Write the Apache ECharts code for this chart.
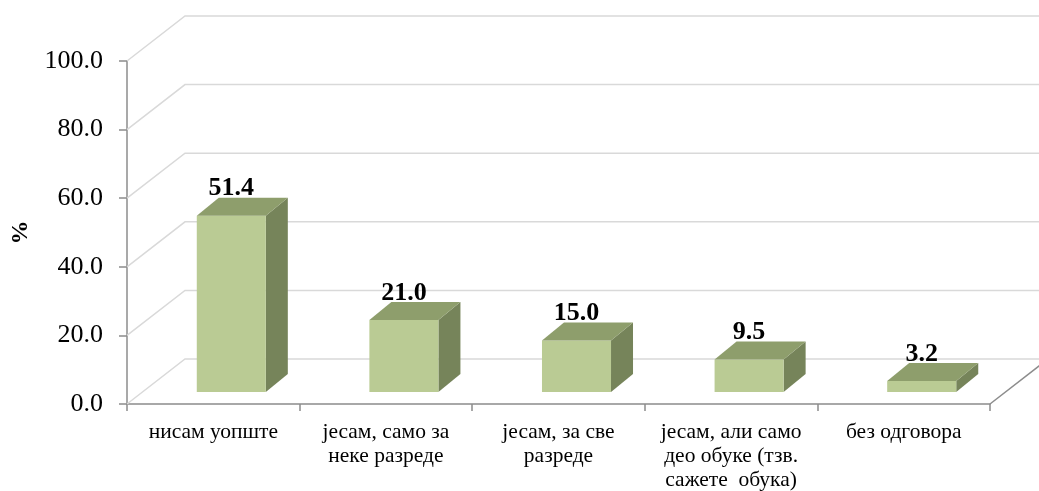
<!DOCTYPE html>
<html>
<head>
<meta charset="utf-8">
<script src="https://cdn.jsdelivr.net/npm/echarts@6/dist/echarts.min.js"></script>
<style>
  html, body { margin: 0; padding: 0; background: #fff; }
  #chart { width: 1039px; height: 491px; }
</style>
</head>
<body>
<div id="chart"></div>
<script>
// data
var categories = ['нисам уопште', 'јесам, само за\nнеке разреде', 'јесам, за све\nразреде', 'јесам, али само\nдео обуке (тзв.\nсажете  обука)', 'без одговора'];
var values = [51.4, 21.0, 15.0, 9.5, 3.2];
var yTicks = [0, 20, 40, 60, 80, 100];

var FONT = 'Liberation Serif, Times New Roman, serif';
// fake 3d depth (wall) and bar offsets
var wallDx = 58, wallDy = -45;
var barDx = 18, barDy = -12;   // bar front face sits a bit inside the floor
var sideDx = 22, sideDy = -18; // bar thickness

var chart = echarts.init(document.getElementById('chart'));

function renderWall(params, api) {
  var cs = params.coordSys;
  var v = api.value(1);
  var y = api.coord([0, v])[1];
  var x0 = cs.x, x1 = cs.x + cs.width;
  var children = [{
    type: 'polyline',
    shape: { points: [[x0, y], [x0 + wallDx, y + wallDy], [x1 + wallDx, y + wallDy]] },
    style: { stroke: '#d9d9d9', lineWidth: 1.5, fill: null },
    silent: true
  }];
  if (v === 0) {
    children.push({
      type: 'line',
      shape: { x1: x1, y1: y, x2: x1 + wallDx, y2: y + wallDy },
      style: { stroke: '#8c8c8c', lineWidth: 1.5 },
      silent: true
    });
  }
  return { type: 'group', children: children };
}

function renderBar(params, api) {
  var i = api.value(0), v = api.value(1);
  var base = api.coord([i, 0]);
  var top = api.coord([i, v]);
  var w = api.size([1, 0])[0] * 0.4;
  var cx = base[0] + barDx;
  var xl = cx - w / 2, xr = cx + w / 2;
  var yb = base[1] + barDy, yt = top[1] + barDy;
  return {
    type: 'group',
    children: [
      {
        type: 'polygon',
        shape: { points: [[xr, yt], [xr + sideDx, yt + sideDy], [xr + sideDx, yb + sideDy], [xr, yb]] },
        style: { fill: '#76845a' }
      },
      {
        type: 'rect',
        shape: { x: xl, y: yt, width: w, height: yb - yt },
        style: { fill: '#bacb94' }
      },
      {
        type: 'polygon',
        shape: { points: [[xl, yt], [xr, yt], [xr + sideDx, yt + sideDy], [xl + sideDx, yt + sideDy]] },
        style: { fill: '#8e9e6c' }
      },
      {
        type: 'text',
        style: {
          text: v.toFixed(1),
          x: cx, y: yt + sideDy + 4,
          align: 'center', verticalAlign: 'bottom',
          font: 'bold 26px ' + FONT,
          fill: '#000'
        }
      }
    ]
  };
}

var option = {
  backgroundColor: '#fff',
  animation: false,
  grid: { left: 127, right: 49, top: 61, bottom: 87, outerBoundsMode: 'none' },
  xAxis: {
    type: 'category',
    data: categories,
    axisLine: { lineStyle: { color: '#8c8c8c', width: 1.5 } },
    axisTick: { show: true, length: 7, lineStyle: { color: '#8c8c8c', width: 1.5 } },
    axisLabel: {
      interval: 0, margin: 16,
      fontFamily: FONT, fontSize: 21.5, lineHeight: 24, color: '#000'
    }
  },
  yAxis: {
    type: 'value',
    min: 0, max: 100, interval: 20,
    name: '%',
    nameLocation: 'middle',
    nameGap: 94,
    nameTextStyle: { fontFamily: FONT, fontSize: 24, fontWeight: 'bold', color: '#000' },
    axisLine: { show: true, lineStyle: { color: '#8c8c8c', width: 1.5 } },
    axisTick: { show: true, length: 8, lineStyle: { color: '#8c8c8c', width: 1.5 } },
    axisLabel: {
      margin: 24,
      fontFamily: FONT, fontSize: 26, color: '#000',
      formatter: function (val) { return val.toFixed(1); }
    },
    splitLine: { show: false }
  },
  series: [
    {
      type: 'custom',
      z: 1,
      renderItem: renderWall,
      data: yTicks.map(function (t) { return [0, t]; })
    },
    {
      type: 'custom',
      z: 3,
      renderItem: renderBar,
      data: values.map(function (v, i) { return [i, v]; })
    }
  ]
};

chart.setOption(option);
</script>
</body>
</html>
